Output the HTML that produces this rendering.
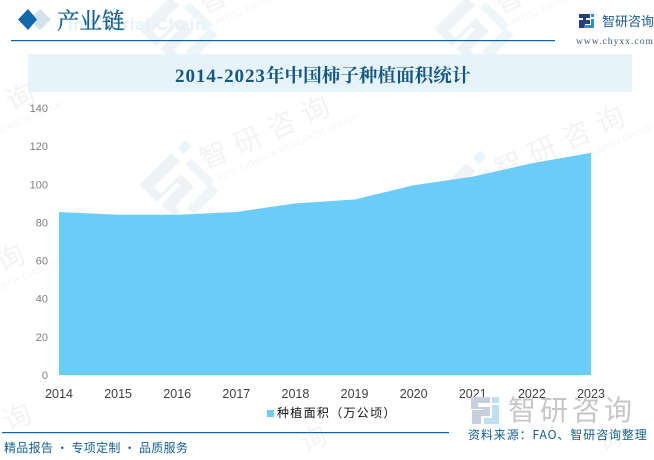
<!DOCTYPE html>
<html lang="zh">
<head>
<meta charset="utf-8">
<title>2014-2023年中国柿子种植面积统计</title>
<style>
html,body{margin:0;padding:0;background:#fff;overflow:hidden;}
#page{position:relative;width:654px;height:460px;overflow:hidden;background:#fff;font-family:"Liberation Sans","Noto Sans CJK SC",sans-serif;}
#page svg{position:absolute;left:0;top:0;}
.wm-cn{font-family:"Noto Sans CJK SC",sans-serif;}
</style>
</head>
<body>
<div id="page">
<svg id="chart" width="654" height="460" viewBox="0 0 654 460" xmlns="http://www.w3.org/2000/svg">
  <defs>
    <g id="wm-mark">
      <path d="M-36 -14 L6 -30 L11 -19 L-24 -6 L-20 3 L6 -7 L13 10 L-12 20 L-9 27 L-17 30 L-24 13 L1 3 L-1 -1 L-27 9 Z" fill="#eff3f6"/>
      <path d="M-2 26 L30 14 L34 24 L2 36 Z M14 -14 L22 -17 L34 13 L26 16 Z" fill="#eff6fa"/>
      <path d="M14 -32 L24 -36 L27 -28 L17 -24 Z" fill="#e9f4fa"/>
    </g>
    <g id="wm-unit">
      <use href="#wm-mark"/>
      <text class="wm-cn" x="30" y="-1" font-size="28" fill="#f3f3f3" letter-spacing="9">智研咨询</text>
      <text x="38" y="15" font-size="9" fill="#f5f5f5" style="font-family:'Liberation Sans',sans-serif">INTELLIGENCE RESEARCH GROUP</text>
    </g>
  </defs>

  <g id="watermarks">
    <use href="#wm-unit" transform="translate(178,183) rotate(-24)"/>
    <use href="#wm-unit" transform="translate(473,193) rotate(-24)"/>
    <use href="#wm-unit" transform="translate(177,27) rotate(-24)"/>
    <use href="#wm-unit" transform="translate(473,27) rotate(-24)"/>
    <use href="#wm-unit" transform="translate(-117,170) rotate(-24)"/>
    <use href="#wm-unit" transform="translate(-127,331) rotate(-24)"/>
    <text class="wm-cn" x="17" y="427" font-size="28" fill="#f3f3f3" text-anchor="middle" transform="rotate(-24 17 417)">询</text>
    <text class="wm-cn" x="313" y="448" font-size="26" fill="#f3f3f3" text-anchor="middle" transform="rotate(-24 313 438)">询</text>
    <text class="wm-cn" x="610" y="448" font-size="22" fill="#f3f3f3" text-anchor="middle" transform="rotate(-24 610 440)">询</text>
  </g>
  <text x="68" y="30" font-size="17" font-weight="700" fill="#e6f2fb" letter-spacing=".6">Industrial Chain</text>

  <g>
    <polygon points="29,19.5 40,9 51,19.5 40,30" fill="#d3e3ee"/>
    <polygon points="18,19.5 28,9 37,19.5 28,30" fill="#1068a8"/>
    <text x="57" y="29" font-size="22.5" fill="#14618f" stroke="#14618f" stroke-width=".35" style="font-family:'Noto Serif CJK SC',serif">产业链</text>
    <rect x="11" y="40" width="544" height="1.2" fill="#0f659c"/>
  </g>

  <g>
    <path d="M579 14 H590 V18 H583 V20 H590 V24 H585 V28 H579 V20 H586 V18 H579 Z" fill="#273f7a"/>
    <path d="M591 14 H594 V17 H591 Z M591 19 H594 V28 H584 V25 H591 Z" fill="#2b8fd0"/>
    <text x="602" y="26" font-size="13" fill="#1d5a8c" style="font-family:'Noto Sans CJK SC',sans-serif">智研咨询</text>
    <text x="576" y="44" font-size="9.5" fill="#3a5a7c" letter-spacing="1.05" style="font-family:'Liberation Serif',serif">www.chyxx.com</text>
  </g>

  <rect x="28" y="54" width="604" height="38" fill="#e6f3fb"/>
  <text x="175" y="82" font-weight="700" fill="#14577f" style="font-family:'Liberation Serif','Noto Serif CJK SC',serif"><tspan font-size="19" letter-spacing=".95">2014-2023</tspan><tspan font-size="18.6">年中国柿子种植面积统计</tspan></text>

  <g id="y-axis"></g>
  <g id="x-axis"></g>
  <g id="series"></g>

  <g>
    <rect x="267" y="410" width="7" height="7" fill="#6bcdf7"/>
    <text x="277" y="417" font-size="12" fill="#111" letter-spacing="1.3" style="font-family:'Noto Sans CJK SC',sans-serif">种植面积（万公顷）</text>
  </g>

  <g>
    <path d="M471 397 H490 V403 H478 V407 H490 V416 H481 V424 H472 V410 H483 V409 H471 Z" fill="#c5d0dc"/>
    <path d="M492 397 H499 V403 H492 Z M492 405 H499 V424 H484 V418 H492 Z" fill="#bfe0f3"/>
    <text x="508" y="420" font-size="28" fill="#c6c6c6" letter-spacing="4" style="font-family:'Noto Sans CJK SC',sans-serif">智研咨询</text>
  </g>

  <rect x="2" y="432" width="447" height="1.2" fill="#0f659c"/>
  <text x="4" y="452" font-size="12" fill="#14618f" letter-spacing=".3" style="font-family:'Noto Sans CJK SC',sans-serif">精品报告 · 专项定制 · 品质服务</text>
  <text x="468" y="439" font-size="12" fill="#14618f" letter-spacing=".9" style="font-family:'Noto Sans CJK SC',sans-serif">资料来源：FAO、智研咨询整理</text>
</svg>
</div>

<script>
var categories = ['2014','2015','2016','2017','2018','2019','2020','2021','2022','2023'];
var plantedArea = [85.5, 84, 84, 85.5, 90, 92, 99.5, 104, 111, 116.5];
var yTicks = [0, 20, 40, 60, 80, 100, 120, 140];

var svgNS = 'http://www.w3.org/2000/svg';
var plot = { left: 59, right: 591, top: 108, bottom: 375 };
var yMax = 140;

function xScale(i) {
  return plot.left + (plot.right - plot.left) * i / (categories.length - 1);
}
function yScale(v) {
  return plot.bottom - (plot.bottom - plot.top) * v / yMax;
}

var yAxis = document.getElementById('y-axis');
yTicks.forEach(function (t) {
  var el = document.createElementNS(svgNS, 'text');
  
  
  el.setAttribute('x', 48);
  el.setAttribute('y', yScale(t) + 4);
  el.setAttribute('text-anchor', 'end');
  el.setAttribute('font-size', '11');
  el.setAttribute('fill', '#7f7f7f');
  el.textContent = t;
  yAxis.appendChild(el);
});

var xAxis = document.getElementById('x-axis');
categories.forEach(function (c, i) {
  var el = document.createElementNS(svgNS, 'text');
  
  
  el.setAttribute('x', xScale(i));
  el.setAttribute('y', 398);
  el.setAttribute('text-anchor', 'middle');
  el.setAttribute('font-size', '12.5');
  el.setAttribute('fill', '#404040');
  el.textContent = c;
  xAxis.appendChild(el);
});

var d = 'M' + xScale(0) + ' ' + yScale(0);
plantedArea.forEach(function (v, i) {
  d += ' L' + xScale(i).toFixed(2) + ' ' + yScale(v).toFixed(2);
});
d += ' L' + xScale(categories.length - 1) + ' ' + yScale(0) + ' Z';

var area = document.createElementNS(svgNS, 'path');


area.setAttribute('d', d);
area.setAttribute('fill', '#6bcdf7');
document.getElementById('series').appendChild(area);
</script>
</body>
</html>
